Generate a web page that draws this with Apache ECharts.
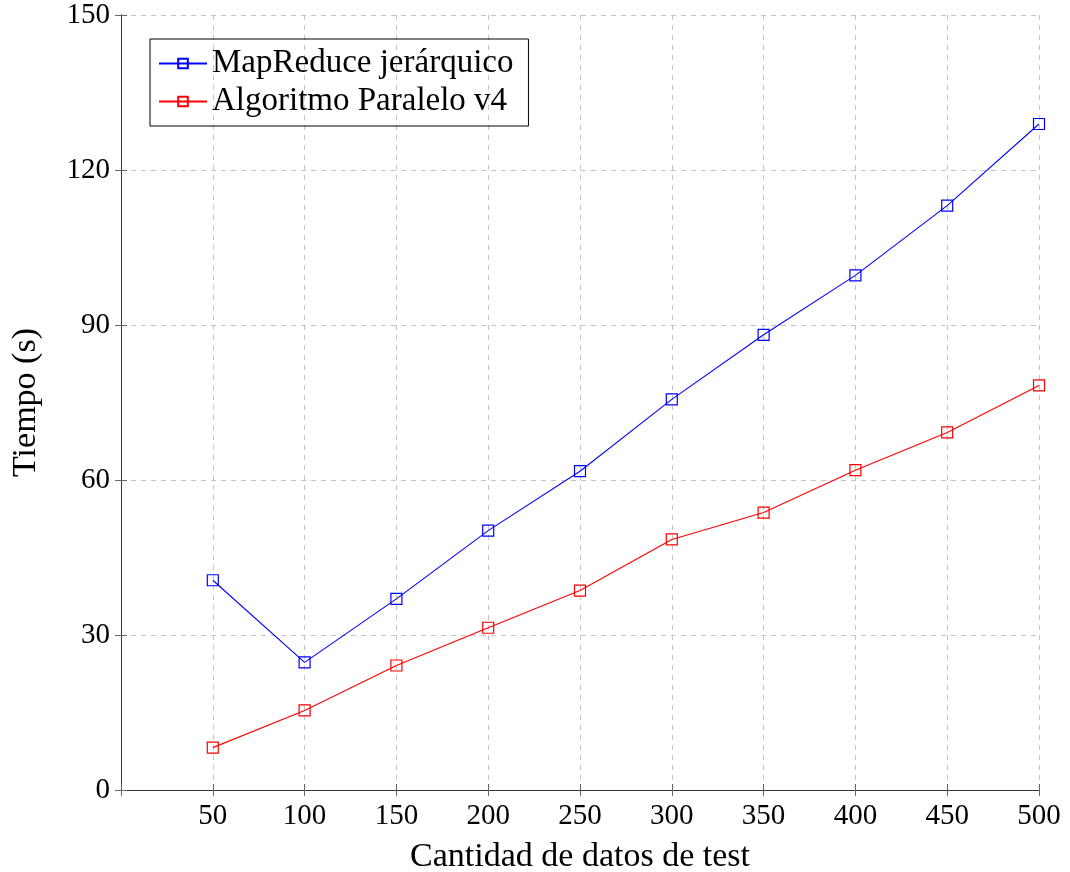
<!DOCTYPE html>
<html lang="es">
<head>
    <meta charset="UTF-8">
    <title>Tiempo vs cantidad de datos</title>
    <script src="https://cdn.jsdelivr.net/npm/echarts@6/dist/echarts.min.js"></script>
    <style>
        body, html { margin: 0; padding: 0; overflow: hidden; background: #fff; }
        #main { width: 1070px; height: 872px; }
    </style>
</head>
<body>
    <div id="main"></div>
    <script>
        // datos
        const tamanos = [50, 100, 150, 200, 250, 300, 350, 400, 450, 500];
        const mapReduce = [40.6, 24.7, 37.0, 50.2, 61.7, 75.6, 88.1, 99.6, 113.1, 128.9];
        const paraleloV4 = [8.2, 15.4, 24.1, 31.4, 38.6, 48.5, 53.7, 61.9, 69.2, 78.3];
        const nombres = ['MapReduce jerárquico', 'Algoritmo Paralelo v4'];

        const fuente = '"Liberation Serif", "DejaVu Serif", serif';
        const rejilla = { show: true, lineStyle: { color: '#c4c4c4', type: [5, 5], width: 1 } };
        const ticks = { show: true, inside: true, length: 6, lineStyle: { color: '#666' } };
        const borde = { show: true, lineStyle: { color: '#333', width: 1 } };

        var myChart = echarts.init(document.getElementById('main'));

        const option = {
            backgroundColor: '#fff',
            animation: false,
            textStyle: { fontFamily: fuente },
            grid: { left: 121, right: 31, top: 15, bottom: 82, containLabel: false, outerBoundsMode: 'none' },
            legend: {
                data: nombres,
                orient: 'vertical',
                left: 150,
                top: 39,
                padding: [8, 15, 8, 8],
                itemGap: 5,
                itemWidth: 48,
                itemHeight: 12,
                borderColor: '#000',
                borderWidth: 1,
                textStyle: { fontFamily: fuente, fontSize: 33, color: '#000' }
            },
            xAxis: [{
                type: 'value',
                min: 0, max: 500, interval: 50,
                name: 'Cantidad de datos de test',
                nameLocation: 'middle',
                nameGap: 50,
                nameTextStyle: { fontFamily: fuente, fontSize: 34, color: '#000' },
                axisLine: borde,
                axisTick: ticks,
                axisLabel: {
                    color: '#000', fontSize: 29, fontFamily: fuente, margin: 12,
                    formatter: v => (v === 0 ? '' : v)
                },
                splitLine: rejilla
            }, {
                type: 'value', position: 'top',
                min: 0, max: 500, interval: 50,
                axisLine: borde,
                axisTick: ticks,
                axisLabel: { show: false },
                splitLine: { show: false }
            }],
            yAxis: [{
                type: 'value',
                min: 0, max: 150, interval: 30,
                name: 'Tiempo (s)',
                nameLocation: 'middle',
                nameGap: 78,
                nameTextStyle: { fontFamily: fuente, fontSize: 34, color: '#000' },
                axisLine: borde,
                axisTick: ticks,
                axisLabel: { color: '#000', fontSize: 29, fontFamily: fuente, margin: 11 },
                splitLine: rejilla
            }, {
                type: 'value', position: 'right',
                min: 0, max: 150, interval: 30,
                axisLine: borde,
                axisTick: ticks,
                axisLabel: { show: false },
                splitLine: { show: false }
            }],
            series: [{
                name: nombres[0],
                type: 'line',
                data: tamanos.map((x, i) => [x, mapReduce[i]]),
                symbol: 'rect',
                symbolSize: 11,
                color: '#0000ff',
                lineStyle: { color: '#0000ff', width: 1.1 },
                itemStyle: { color: 'rgba(0,0,0,0)', borderColor: '#0000ff', borderWidth: 1.2 }
            }, {
                name: nombres[1],
                type: 'line',
                data: tamanos.map((x, i) => [x, paraleloV4[i]]),
                symbol: 'rect',
                symbolSize: 11,
                color: '#ff0000',
                lineStyle: { color: '#ff0000', width: 1.1 },
                itemStyle: { color: 'rgba(0,0,0,0)', borderColor: '#ff0000', borderWidth: 1.2 }
            }]
        };

        myChart.setOption(option);
    </script>
</body>
</html>
